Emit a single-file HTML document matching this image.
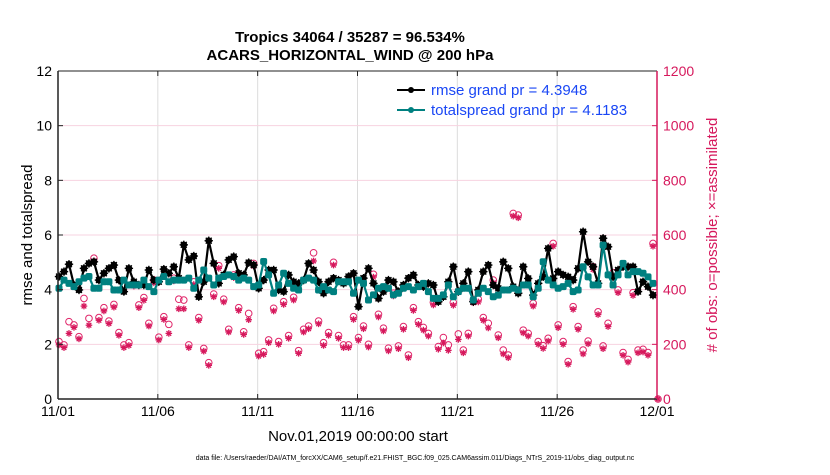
<!DOCTYPE html>
<html><head><meta charset="utf-8"><style>
body{margin:0;background:#fff;font-family:"Liberation Sans",Arial,sans-serif}
</style></head><body>
<svg id="chart" width="830" height="470" xmlns="http://www.w3.org/2000/svg" font-family="Liberation Sans, Arial, sans-serif">
<rect width="830" height="470" fill="#fff"/>
<g id="grid"></g>
<g id="marks"></g>
<g id="axes"></g>
<text x="350" y="42" text-anchor="middle" font-size="15" font-weight="bold">Tropics 34064 / 35287 = 96.534%</text>
<text x="350" y="60" text-anchor="middle" font-size="15" font-weight="bold">ACARS_HORIZONTAL_WIND @ 200 hPa</text>
<text transform="translate(32,235) rotate(-90)" text-anchor="middle" font-size="15">rmse and totalspread</text>
<text transform="translate(717,235) rotate(-90)" text-anchor="middle" font-size="15" fill="#d6185c"># of obs: o=possible; ×=assimilated</text>
<text x="358" y="441" text-anchor="middle" font-size="15">Nov.01,2019 00:00:00 start</text>
<text x="415" y="460" text-anchor="middle" font-size="7">data file: /Users/raeder/DAI/ATM_forcXX/CAM6_setup/f.e21.FHIST_BGC.f09_025.CAM6assim.011/Diags_NTrS_2019-11/obs_diag_output.nc</text>
<g id="legend">
<line x1="397" y1="90" x2="425" y2="90" stroke="#000" stroke-width="2"/><circle cx="411" cy="90" r="3" fill="#000"/>
<text x="431" y="95" font-size="15" fill="#1a47f5">rmse grand pr = 4.3948</text>
<line x1="397" y1="110" x2="425" y2="110" stroke="#008080" stroke-width="2"/><circle cx="411" cy="110" r="3" fill="#008080"/>
<text x="431" y="115" font-size="15" fill="#1a47f5">totalspread grand pr = 4.1183</text>
</g>
</svg>
<script>
const xTickLabels=["11/01","11/06","11/11","11/16","11/21","11/26","12/01"];
const yTicks=[0,2,4,6,8,10,12];
const y2Ticks=[0,200,400,600,800,1000,1200];
const rmse=[4.48,4.66,4.93,4.17,3.99,4.78,4.96,5.02,4.35,4.6,4.78,4.9,4.35,3.93,4.78,4.29,4.17,4.17,4.72,4.35,4.29,4.75,4.6,4.84,4.42,5.64,5.09,5.23,3.74,4.29,5.79,4.96,4.23,4.54,5.09,5.21,4.6,4.54,4.99,4.9,4.05,4.35,
4.72,4.72,3.99,3.93,4.54,4.29,4.23,4.35,4.96,4.72,4.29,3.87,4.29,4.42,4.35,4.23,4.48,4.6,3.38,4.42,4.78,4.23,3.68,3.93,4.35,4.29,3.93,4.17,4.42,4.54,4.17,4.11,4.23,4.17,3.56,3.74,4.29,4.84,3.93,4.23,
4.66,3.56,3.99,4.66,4.9,4.17,4.05,5.02,4.78,4.11,3.87,4.84,4.41,3.8,4.23,4.47,5.51,4.41,4.66,4.54,4.47,4.35,4.78,6.12,5.02,4.84,4.23,5.88,5.57,4.47,4.72,4.84,4.84,4.84,3.93,4.29,4.11,3.8];
const spread=[4.05,4.35,4.23,4.11,4.29,4.42,4.48,4.05,4.05,4.29,4.29,3.99,3.99,4.35,4.17,4.17,4.17,4.35,4.11,3.93,4.35,4.48,4.29,4.35,4.35,4.35,4.42,4.05,4.35,4.72,4.42,4.17,4.42,4.48,4.54,4.48,4.35,4.42,4.35,4.11,4.17,5.03,
4.54,3.87,4.17,4.6,4.23,4.05,3.99,4.35,4.42,4.35,3.99,4.11,3.99,3.93,4.29,4.29,4.29,3.87,4.35,4.23,3.62,3.81,4.05,4.11,4.05,3.81,3.87,4.05,4.11,3.99,4.11,4.23,3.93,3.68,3.68,3.81,4.17,3.74,3.93,4.05,
4.05,3.62,3.87,4.05,3.93,3.74,3.8,3.99,3.99,4.05,3.99,4.17,4.17,3.74,4.05,5.02,4.35,4.17,4.05,4.11,4.23,3.93,3.99,4.84,4.47,4.17,4.17,5.63,4.54,4.17,4.54,4.96,4.54,4.66,4.66,4.6,4.47,4.23];
const possible=[210,198,283,271,228,368,295,515,298,334,285,346,243,198,206,423,344,371,277,435,226,301,273,442,365,362,198,429,298,185,133,384,488,365,255,454,334,246,313,496,167,173,
216,332,210,356,232,372,177,255,267,535,285,206,243,500,232,198,198,301,225,267,200,456,310,259,186,387,194,265,161,334,283,262,240,354,192,225,198,353,238,179,
240,362,365,298,277,435,234,179,161,679,673,252,240,350,210,195,222,569,271,210,137,338,265,179,212,484,319,194,277,462,399,170,145,389,179,182,170,569,0];
const assimilated=[198,188,240,262,220,340,270,505,288,322,276,336,233,188,196,413,334,361,267,425,216,291,240,432,330,330,188,419,288,175,123,374,478,355,245,444,324,236,290,486,157,163,
206,322,200,346,222,362,167,245,257,505,275,196,233,490,222,188,188,291,215,257,190,446,300,249,176,377,184,255,151,324,273,252,230,344,182,205,178,343,218,169,
230,352,355,288,260,425,224,165,151,669,663,242,230,340,200,185,212,559,261,200,127,328,255,165,202,474,309,184,265,452,389,160,135,379,169,172,160,559,0];
const NS='http://www.w3.org/2000/svg';
const X0=58,X1=657,Y0=399,Y1=71;
const xScale=d=>X0+(X1-X0)*d/30;
const yScale=v=>Y0-(Y0-Y1)*v/12;
const y2Scale=v=>Y0-(Y0-Y1)*v/1200;
const tOf=i=>0.05+i*0.25;
function mk(tag,attrs,parent){const e=document.createElementNS(NS,tag);for(const k in attrs)e.setAttribute(k,attrs[k]);parent.appendChild(e);return e;}
const grid=document.getElementById('grid'),marks=document.getElementById('marks'),axes=document.getElementById('axes');
xTickLabels.forEach((lab,i)=>{const x=xScale(i*5);
 const g=mk('line',{x1:x,x2:x,y1:Y1,y2:Y0,stroke:'#dcdcdc','stroke-width':1},grid);
 
 mk('line',{x1:x,x2:x,y1:Y0,y2:Y0-5,stroke:'#222'},axes);mk('line',{x1:x,x2:x,y1:Y1,y2:Y1+5,stroke:'#222'},axes);
 const t=mk('text',{x:x,y:416,'text-anchor':'middle','font-size':14},axes);t.textContent=lab;
 });
yTicks.forEach(v=>{const y=yScale(v);
 const g=mk('line',{x1:X0,x2:X1,y1:y,y2:y,stroke:'#f7d3e0','stroke-width':1},grid);
 
 mk('line',{x1:X0,x2:X0+5,y1:y,y2:y,stroke:'#222'},axes);
 const t=mk('text',{x:X0-6,y:y+5,'text-anchor':'end','font-size':14},axes);t.textContent=v;
 });
y2Ticks.forEach(v=>{const y=y2Scale(v);
 mk('line',{x1:X1-5,x2:X1,y1:y,y2:y,stroke:'#d6185c'},axes);
 const t=mk('text',{x:X1+6,y:y+5,'font-size':14,fill:'#d6185c'},axes);t.textContent=v;
 });
mk('line',{x1:X0,x2:X1,y1:Y1,y2:Y1,stroke:'#222'},axes);
mk('line',{x1:X0,x2:X1,y1:Y0,y2:Y0,stroke:'#222','stroke-width':1.5},axes);
mk('line',{x1:X0,x2:X0,y1:Y1,y2:Y0,stroke:'#222','stroke-width':1.5},axes);
mk('line',{x1:X1,x2:X1,y1:Y1,y2:Y0,stroke:'#d6185c','stroke-width':1.5},axes);
function star(x,y,r,color,parent){const g=mk('g',{stroke:color,'stroke-width':1.3},parent);
 for(let k=0;k<4;k++){const a=k*Math.PI/4;mk('line',{x1:x-r*Math.cos(a),y1:y-r*Math.sin(a),x2:x+r*Math.cos(a),y2:y+r*Math.sin(a)},g);}return g;}
possible.forEach((v,i)=>{const c=mk('circle',{cx:xScale(tOf(i)),cy:y2Scale(v),r:3.3,fill:'none',stroke:'#e0266a','stroke-width':1},marks);
 });
assimilated.forEach((v,i)=>{const s=star(xScale(tOf(i)),y2Scale(v),3.3,'#d6185c',marks);
 });
function series(arr,color,name,isStar){const pts=arr.map((v,i)=>xScale(tOf(i))+','+yScale(v)).join(' ');
 const p=mk('polyline',{points:pts,fill:'none',stroke:color,'stroke-width':2.2},marks);
 
 arr.forEach((v,i)=>{const x=xScale(tOf(i)),y=yScale(v);
  if(isStar){const g=mk('g',{},marks);mk('circle',{cx:x,cy:y,r:3.4,fill:color},g);star(x,y,4.2,color,g);
   }
  else{const c=mk('rect',{x:x-3.5,y:y-3.5,width:7,height:7,rx:2,fill:color},marks);
   }});}
series(rmse,'#000','rmse',true);
series(spread,'#008080','totalspread',false);
</script>
</body></html>
